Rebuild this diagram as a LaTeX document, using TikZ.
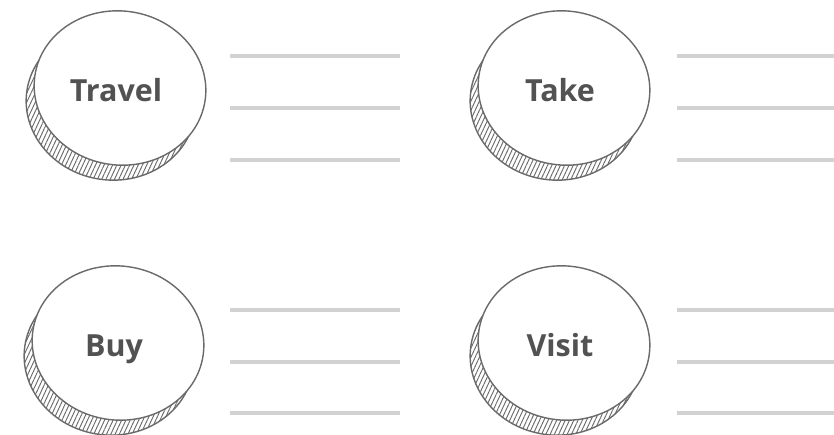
\documentclass[tikz,border=0pt]{standalone}
\usepackage{fontspec}
\setmainfont{Open Sans}
\usetikzlibrary{patterns.meta}

\definecolor{coinline}{HTML}{6A6A6A}
\definecolor{wordgray}{HTML}{525252}
\definecolor{rulegray}{HTML}{D2D2D2}

\tikzset{
  coinrim/.style={draw=coinline, line width=1.2pt,
    pattern={Lines[angle=65, distance=3.3pt, line width=0.8pt]}, pattern color=coinline},
  coinface/.style={draw=coinline, line width=1.2pt, fill=white},
  word/.style={anchor=base, text=wordgray, font=\fontsize{26}{30}\selectfont\bfseries},
  writeline/.style={draw=rulegray, line width=3pt}
}

\begin{document}
\begin{tikzpicture}[x=0.3mm, y=-0.3mm]
  \useasboundingbox (0,0) rectangle (834,434);

  % the four coins
  \foreach \cx/\cy/\w/\name in {120/88/Travel/travel, 564/88/Take/take,
                                 118/343/Buy/buy, 564/343/Visit/visit} {
    \draw[coinrim] (\cx-9,\cy+15) ellipse [x radius=85, y radius=77, rotate=-8];
    \draw[coinface] (\cx,\cy) ellipse [x radius=86, y radius=77, rotate=-8];
    \node[word] (\name) at (\cx-4,\cy+13) {\w};
  }

  % writing lines beside each coin
  \foreach \y in {56,108,160,310,362,413} {
    \draw[writeline] (230,\y) -- (400,\y);
    \draw[writeline] (677,\y) -- (834,\y);
  }
\end{tikzpicture}
\end{document}
